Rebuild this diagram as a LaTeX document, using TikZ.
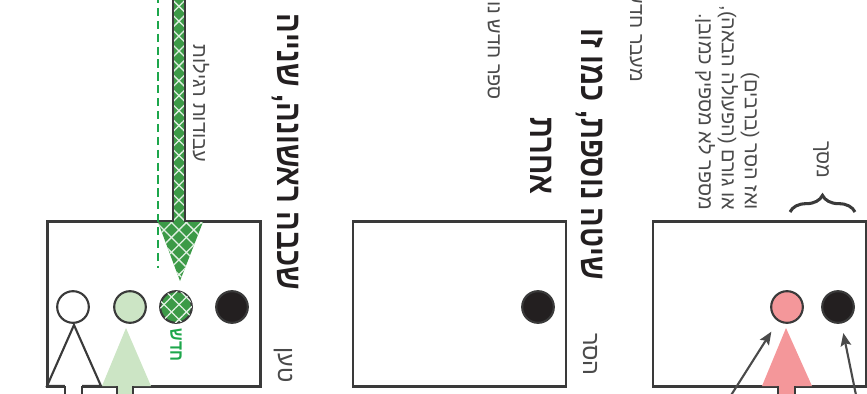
\documentclass[tikz,border=0pt]{standalone}
\usepackage{fontspec}
\newfontfamily\hebfont[Script=Hebrew]{Liberation Sans}
\newfontfamily\hebbold[Script=Hebrew, FakeStretch=0.83]{Liberation Sans Bold}
\TeXXeTstate=1
\usetikzlibrary{positioning,arrows.meta,patterns.meta,decorations.pathreplacing,calc}
\definecolor{framegrey}{HTML}{3A3A3A}
\definecolor{inkblack}{HTML}{231F20}
\definecolor{inkgrey}{HTML}{4A4A4A}
\definecolor{softgreen}{HTML}{CCE5C5}
\definecolor{checkgreen}{HTML}{3C9A47}
\definecolor{dashgreen}{HTML}{1DA64B}
\definecolor{softpink}{HTML}{F4979A}
\newcommand{\heb}[1]{\hebfont\beginR #1\endR}
\newcommand{\hebb}[1]{\hebbold\beginR #1\endR}

\begin{document}
\begin{tikzpicture}[x=0.03cm, y=-0.03cm,
    frame/.style={draw=framegrey, line width=2pt, minimum width=213*0.03cm, minimum height=165*0.03cm, inner sep=0pt},
    dot/.style={circle, draw=framegrey, line width=1.8pt, minimum size=0.95cm, inner sep=0pt},
    checks/.style={postaction={pattern={Lines[angle=45,distance=9pt,line width=1.1pt]}, pattern color=white!85!checkgreen},
                   postaction={pattern={Lines[angle=-45,distance=9pt,line width=1.1pt]}, pattern color=white!85!checkgreen}},
    side/.style={draw=framegrey, line width=1.8pt},
    pointer/.style={-{Stealth[length=11pt, width=9pt, inset=2pt]}, draw=inkgrey, line width=1.8pt},
    lbl/.style={rotate=-90, anchor=east, inner sep=0pt, text=inkgrey, font=\fontsize{17}{19}\selectfont},
    boxlbl/.style={lbl, font=\fontsize{20}{22}\selectfont},
    big/.style={rotate=-90, anchor=east, inner sep=0pt, text=inkblack, font=\fontsize{30}{32}\selectfont}]
  \useasboundingbox (0,0) rectangle (867,394);
  \clip (0,0) rectangle (867,394);
  % boxes
  \node[frame] (F1) at (154,304) {};
  \node[frame] (F2) at (459.5,304) {};
  \node[frame] (F3) at (759.5,304) {};
  % circles
  \foreach \x/\name/\col in {73/w/white, 130/g/softgreen, 232/k1/inkblack, 538/k2/inkblack, 787/p/softpink, 838/k3/inkblack}
    \node[dot, fill=\col] (\name) at (\x,307) {};
  \node[dot, fill=checkgreen, checks] (c) at (176,307) {};

  % panel 1: arrows
  \draw[framegrey, line width=1.8pt, fill=white] (74,325) -- (47,386) -- (101,386) -- cycle;
  \fill[white] (65,384) rectangle (82,400);
  \draw[side] (65,386) -- (65,400) (82,386) -- (82,400);
  \fill[softgreen] (126,328) -- (102,386) -- (151,386) -- cycle;
  \fill[softgreen] (117,384) rectangle (133,400);
  \draw[side] (117,386) -- (117,400) (133,386) -- (133,400);
  \draw[dashgreen, line width=2.4pt, dash pattern=on 7pt off 4pt] (158,-5) -- (158,268);
  \fill[checkgreen, checks] (173,-5) rectangle (185,224);
  \draw[side] (173,-5) -- (173,222) (185,-5) -- (185,222);
  \fill[checkgreen, checks] (158,222) -- (203,222) -- (180,281) -- cycle;
  \node[inner sep=0pt, text=dashgreen, rotate=-90, font=\fontsize{16}{18}\selectfont] (tg) at (176,345) {\hebb{חדש}};
  \node[lbl] (t1) at (201,162) {\heb{עבודות רגילות}};
  \node[big] (h1) at (285,290) {\hebb{שכבה ראשונה, שנייה}};
  \node[boxlbl] (s1) at (283,383) {\heb{טען}};

  % panel 2
  \node[lbl] (t2) at (492,100) {\heb{ספר חדש נוסף במערכת}};
  \node[big] (h2) at (590,280) {\hebb{שיטה נוספת, כמו זו}};
  \node[big] (h3) at (541,195) {\hebb{אחרת}};
  \node[boxlbl] (s2) at (590,376) {\heb{הסר}};

  % panel 3
  \node[lbl] (t3) at (635,82) {\heb{מעבר חדש, ה}};
  \node[lbl] (n1) at (750,210) {\heb{ואז הסר (ברבים)}};
  \node[lbl] (n2) at (728,210) {\heb{או גורם (הפעולה הבאה),}};
  \node[lbl] (n3) at (705,210) {\heb{מספר לא מספיק כמובן.}};
  \draw[framegrey, line width=2.6pt, decorate, decoration={brace, amplitude=0.5cm}] (790,212) -- (855,212);
  \node[lbl, anchor=center] (br) at (821,160) {\heb{מסך}};
  \fill[softpink] (786,328) -- (762,386) -- (812,386) -- cycle;
  \fill[softpink] (778,384) rectangle (795,400);
  \draw[side] (778,386) -- (778,400) (795,386) -- (795,400);
  \coordinate (q1) at (728,400);
  \coordinate (q2) at (857,400);
  \draw[pointer, shorten >=0.37cm] (q1) -- (p);
  \draw[pointer, shorten >=0.29cm] (q2) -- (k3);
\end{tikzpicture}
\end{document}
